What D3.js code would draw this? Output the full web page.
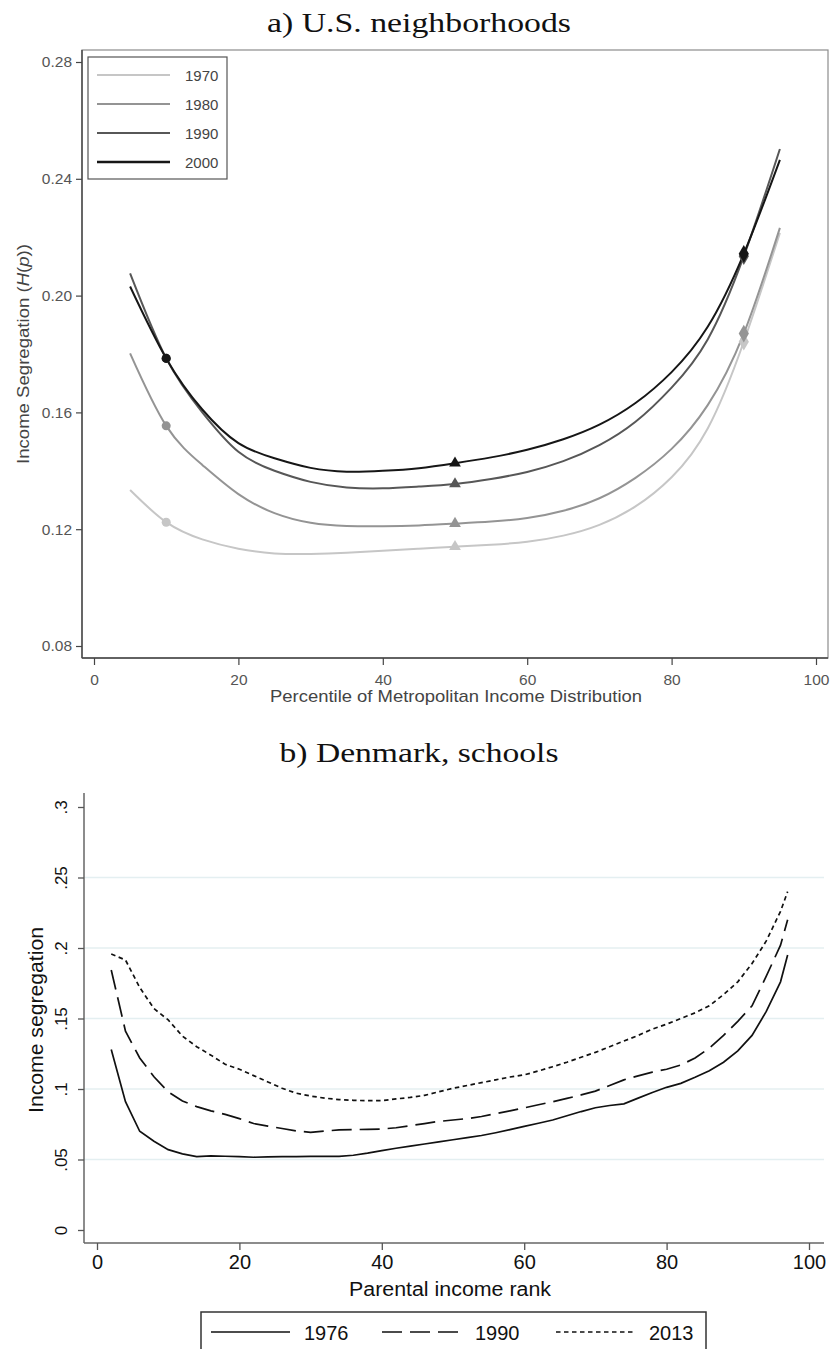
<!DOCTYPE html>
<html><head><meta charset="utf-8">
<script src="https://cdn.jsdelivr.net/npm/d3@7"></script>
<style>body{margin:0;background:#fff} svg{display:block}</style>
</head><body>
<svg id="c" width="832" height="1349"></svg>
<script>
// ---------- Panel a) data ----------
const topYears = ["1970", "1980", "1990", "2000"];
const topPctl = [5, 10, 15, 20, 25, 30, 35, 40, 45, 50, 55, 60, 65, 70, 75, 80, 85, 90, 95];
const seg1970 = [0.1334, 0.1224, 0.1165, 0.1133, 0.1117, 0.1115, 0.1119, 0.1126, 0.1133, 0.1140, 0.1147, 0.1157, 0.1178, 0.1215, 0.1278, 0.1378, 0.1545, 0.1842, 0.2215];
const seg1980 = [0.1802, 0.1554, 0.1420, 0.1320, 0.1255, 0.1222, 0.1211, 0.1210, 0.1213, 0.1219, 0.1226, 0.1238, 0.1263, 0.1306, 0.1376, 0.1475, 0.1625, 0.1870, 0.2232];
const seg1990 = [0.2076, 0.1785, 0.1600, 0.1465, 0.1400, 0.1362, 0.1343, 0.1340, 0.1346, 0.1355, 0.1372, 0.1396, 0.1433, 0.1488, 0.1568, 0.1685, 0.1850, 0.2135, 0.2502];
const seg2000 = [0.2031, 0.1785, 0.1610, 0.1495, 0.1443, 0.1410, 0.1397, 0.1400, 0.1409, 0.1426, 0.1446, 0.1472, 0.1508, 0.1558, 0.1632, 0.1738, 0.1893, 0.2143, 0.2465];
const markerPctl = [10, 50, 90];
const topXTicks = [0, 20, 40, 60, 80, 100];
const topYTicks = [0.08, 0.12, 0.16, 0.20, 0.24, 0.28];

// ---------- Panel b) data ----------
const botYears = ["1976", "1990", "2013"];
const botPctl = [2, 4, 6, 8, 10, 12, 14, 16, 18, 20, 22, 24, 26, 28, 30, 32, 34, 36, 38, 40, 42, 44, 46, 48, 50, 52, 54, 56, 58, 60, 62, 64, 66, 68, 70, 72, 74, 76, 78, 80, 82, 84, 86, 88, 90, 92, 94, 96, 97];
const seg1976 = [0.128, 0.091, 0.070, 0.063, 0.057, 0.054, 0.052, 0.0525, 0.0523, 0.052, 0.0516, 0.0518, 0.052, 0.052, 0.0522, 0.0522, 0.0522, 0.053, 0.0545, 0.0563, 0.058, 0.0595, 0.061, 0.0625, 0.064, 0.0655, 0.067, 0.069, 0.0712, 0.0735, 0.0757, 0.078, 0.081, 0.084, 0.0867, 0.0883, 0.0895, 0.0935, 0.0975, 0.1012, 0.104, 0.1083, 0.113, 0.119, 0.127, 0.138, 0.155, 0.176, 0.195];
const segDK1990 = [0.1844, 0.141, 0.122, 0.1087, 0.098, 0.0915, 0.0875, 0.0845, 0.082, 0.079, 0.0755, 0.0737, 0.072, 0.0703, 0.0693, 0.0702, 0.071, 0.0712, 0.0714, 0.0716, 0.0725, 0.074, 0.0755, 0.077, 0.078, 0.079, 0.0805, 0.0825, 0.0845, 0.0866, 0.0888, 0.091, 0.0933, 0.0958, 0.0985, 0.1025, 0.1065, 0.1093, 0.112, 0.114, 0.117, 0.122, 0.129, 0.138, 0.148, 0.159, 0.180, 0.202, 0.220];
const seg2013 = [0.1957, 0.1915, 0.172, 0.157, 0.149, 0.1375, 0.130, 0.124, 0.1175, 0.114, 0.1095, 0.105, 0.1005, 0.097, 0.095, 0.0935, 0.0925, 0.092, 0.0917, 0.0917, 0.093, 0.094, 0.0955, 0.098, 0.1005, 0.1025, 0.1045, 0.1065, 0.1085, 0.110, 0.1128, 0.1158, 0.119, 0.1225, 0.126, 0.130, 0.134, 0.138, 0.1425, 0.146, 0.150, 0.154, 0.159, 0.167, 0.176, 0.189, 0.205, 0.226, 0.240];
const botXTicks = [0, 20, 40, 60, 80, 100];
const botYTicks = [0, 0.05, 0.10, 0.15, 0.20, 0.25, 0.30];
const botGrid = [0.05, 0.10, 0.15, 0.20, 0.25];

// ---------- styles ----------
const topColors = ["#c6c6c6", "#949494", "#575757", "#161616"];
const botDash = [null, "20,8", "4.5,3.5"];
const SANS = "'Liberation Sans', Arial, sans-serif";
const SERIF = "'Liberation Serif', 'Times New Roman', serif";

const svg = d3.select("#c");
svg.append("rect").attr("width", 832).attr("height", 1349).attr("fill", "#fff");

// ================= Panel a =================
const tx = d3.scaleLinear().domain([0, 100]).range([94, 816]);
const ty = d3.scaleLinear().domain([0.08, 0.28]).range([646, 62]);
const pA = {l: 82, r: 828, t: 50, b: 658};

svg.append("text").attr("x", 419).attr("y", 32).attr("text-anchor", "middle")
  .attr("font-family", SERIF).attr("font-size", 28).attr("fill", "#111")
  .attr("textLength", 304).attr("lengthAdjust", "spacingAndGlyphs")
  .text("a) U.S. neighborhoods");

svg.append("rect").attr("x", pA.l).attr("y", pA.t).attr("width", pA.r - pA.l).attr("height", pA.b - pA.t)
  .attr("fill", "none").attr("stroke", "#8c8c8c").attr("stroke-width", 1.2);
svg.append("line").attr("x1", pA.l).attr("x2", pA.l).attr("y1", pA.t).attr("y2", pA.b).attr("stroke", "#444").attr("stroke-width", 1.4);
svg.append("line").attr("x1", pA.l).attr("x2", pA.r).attr("y1", pA.b).attr("y2", pA.b).attr("stroke", "#444").attr("stroke-width", 1.4);

const yAxA = svg.append("g").attr("transform", `translate(${pA.l},0)`)
  .call(d3.axisLeft(ty).tickValues(topYTicks).tickFormat(d3.format(".2f")).tickSize(6).tickPadding(4));
const xAxA = svg.append("g").attr("transform", `translate(0,${pA.b})`)
  .call(d3.axisBottom(tx).tickValues(topXTicks).tickSize(7).tickPadding(9));
[yAxA, xAxA].forEach(g => {
  g.select(".domain").remove();
  g.selectAll(".tick line").attr("stroke", "#444").attr("stroke-width", 1.2);
  g.selectAll(".tick text").attr("font-family", SANS).attr("font-size", 15.5).attr("fill", "#555");
});

svg.append("text").attr("x", 456).attr("y", 702).attr("text-anchor", "middle")
  .attr("font-family", SANS).attr("font-size", 17).attr("fill", "#444")
  .attr("textLength", 372).attr("lengthAdjust", "spacingAndGlyphs")
  .text("Percentile of Metropolitan Income Distribution");

const yl = svg.append("text").attr("transform", "translate(29,354) rotate(-90)").attr("text-anchor", "middle")
  .attr("font-family", SANS).attr("font-size", 16.5).attr("fill", "#444")
  .attr("textLength", 220).attr("lengthAdjust", "spacingAndGlyphs");
yl.append("tspan").text("Income Segregation (");
yl.append("tspan").attr("font-style", "italic").text("H");
yl.append("tspan").text("(");
yl.append("tspan").attr("font-style", "italic").text("p");
yl.append("tspan").text("))");

const topSeries = [seg1970, seg1980, seg1990, seg2000];
const lineA = d3.line().x(d => tx(d[0])).y(d => ty(d[1])).curve(d3.curveNatural);
topSeries.forEach((s, i) => {
  svg.append("path").datum(topPctl.map((p, j) => [p, s[j]]))
    .attr("d", lineA).attr("fill", "none").attr("stroke", topColors[i]).attr("stroke-width", 2);
});
const markerTypes = [d3.symbolCircle, d3.symbolTriangle, d3.symbolDiamond];
const markerSizes = [64, 60, 90];
topSeries.forEach((s, i) => {
  markerPctl.forEach((p, k) => {
    const v = s[topPctl.indexOf(p)];
    svg.append("path").attr("d", d3.symbol().type(markerTypes[k]).size(markerSizes[k])())
      .attr("transform", `translate(${tx(p)},${ty(v)})`).attr("fill", topColors[i]);
  });
});

// legend a
svg.append("rect").attr("x", 88).attr("y", 57).attr("width", 139).attr("height", 122)
  .attr("fill", "#fff").attr("stroke", "#555").attr("stroke-width", 1.2);
topYears.forEach((yr, i) => {
  const y = 75 + i * 29;
  svg.append("line").attr("x1", 97).attr("x2", 170).attr("y1", y).attr("y2", y)
    .attr("stroke", topColors[i]).attr("stroke-width", i === 3 ? 2.6 : 2);
  svg.append("text").attr("x", 185).attr("y", y + 5.5).attr("font-family", SANS).attr("font-size", 15)
    .attr("fill", "#444").text(yr);
});

// ================= Panel b =================
const bx = d3.scaleLinear().domain([0, 100]).range([97, 809]);
const by = d3.scaleLinear().domain([0, 0.3]).range([1230, 807]);
const pB = {l: 84, r: 824, t: 793, b: 1243};

svg.append("text").attr("x", 419).attr("y", 762).attr("text-anchor", "middle")
  .attr("font-family", SERIF).attr("font-size", 28).attr("fill", "#111")
  .attr("textLength", 279).attr("lengthAdjust", "spacingAndGlyphs")
  .text("b) Denmark, schools");

botGrid.forEach(v => {
  svg.append("line").attr("x1", pB.l).attr("x2", pB.r).attr("y1", by(v)).attr("y2", by(v))
    .attr("stroke", "#e4eff1").attr("stroke-width", 1.3);
});

svg.append("line").attr("x1", pB.l).attr("x2", pB.l).attr("y1", pB.t).attr("y2", pB.b).attr("stroke", "#666").attr("stroke-width", 1.5);
svg.append("line").attr("x1", pB.l).attr("x2", pB.r).attr("y1", pB.b).attr("y2", pB.b).attr("stroke", "#666").attr("stroke-width", 1.5);

const fmtB = d => d === 0 ? "0" : d3.format(".2~f")(d).replace(/^0/, "");
const yAxB = svg.append("g").attr("transform", `translate(${pB.l},0)`)
  .call(d3.axisLeft(by).tickValues(botYTicks).tickFormat(fmtB).tickSize(6));
yAxB.select(".domain").remove();
yAxB.selectAll(".tick line").attr("stroke", "#555").attr("stroke-width", 1.3);
yAxB.selectAll(".tick text").attr("x", 0).attr("y", 0).attr("dy", 0)
  .attr("transform", "translate(-17,0) rotate(-90)").attr("text-anchor", "middle")
  .attr("font-family", SANS).attr("font-size", 17).attr("fill", "#111");

const xAxB = svg.append("g").attr("transform", `translate(0,${pB.b})`)
  .call(d3.axisBottom(bx).tickValues(botXTicks).tickSize(7).tickPadding(5));
xAxB.select(".domain").remove();
xAxB.selectAll(".tick line").attr("stroke", "#555").attr("stroke-width", 1.3);
xAxB.selectAll(".tick text").attr("font-family", SANS).attr("font-size", 20).attr("fill", "#111");

svg.append("text").attr("x", 450).attr("y", 1296).attr("text-anchor", "middle")
  .attr("font-family", SANS).attr("font-size", 20).attr("fill", "#111")
  .attr("textLength", 202).attr("lengthAdjust", "spacingAndGlyphs")
  .text("Parental income rank");
svg.append("text").attr("transform", "translate(43,1020) rotate(-90)").attr("text-anchor", "middle")
  .attr("font-family", SANS).attr("font-size", 20).attr("fill", "#111")
  .attr("textLength", 186).attr("lengthAdjust", "spacingAndGlyphs")
  .text("Income segregation");

const botSeries = [seg1976, segDK1990, seg2013];
const lineB = d3.line().x(d => bx(d[0])).y(d => by(d[1]));
botSeries.forEach((s, i) => {
  const p = svg.append("path").datum(botPctl.map((x, j) => [x, s[j]]))
    .attr("d", lineB).attr("fill", "none").attr("stroke", "#111").attr("stroke-width", 1.7);
  if (botDash[i]) p.attr("stroke-dasharray", botDash[i]);
});

// legend b
svg.append("rect").attr("x", 201).attr("y", 1312).attr("width", 505).attr("height", 60)
  .attr("fill", "#fff").attr("stroke", "#333").attr("stroke-width", 1.5);
const legX = [211, 382, 556];
botYears.forEach((yr, i) => {
  const l = svg.append("line").attr("x1", legX[i]).attr("x2", legX[i] + 79).attr("y1", 1332).attr("y2", 1332)
    .attr("stroke", "#111").attr("stroke-width", 1.7);
  if (botDash[i]) l.attr("stroke-dasharray", botDash[i]);
  svg.append("text").attr("x", legX[i] + 93).attr("y", 1340).attr("font-family", SANS).attr("font-size", 20)
    .attr("fill", "#111").text(yr);
});
</script>
</body></html>
